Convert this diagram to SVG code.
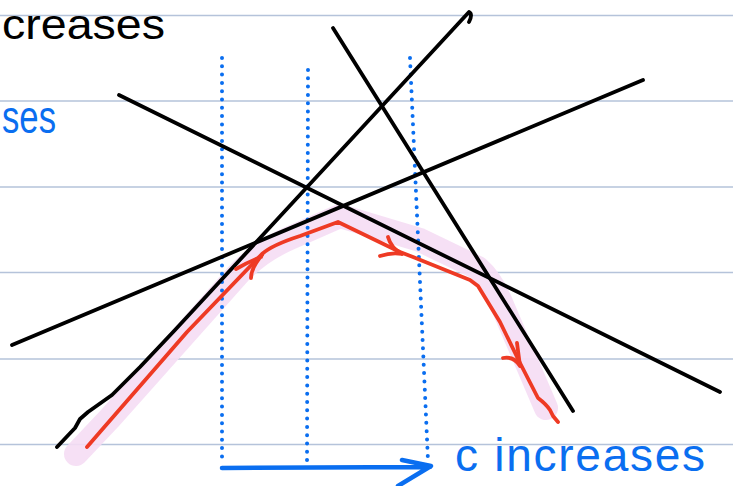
<svg xmlns="http://www.w3.org/2000/svg" width="733" height="486" viewBox="0 0 733 486">
<style>
.rule{stroke:#b5c3da;stroke-width:1.6}
.blk{fill:none;stroke:#000;stroke-width:3.8;stroke-linecap:round;stroke-linejoin:round}
.red{fill:none;stroke:#ee3a24;stroke-width:3.8;stroke-linecap:round;stroke-linejoin:round}
.dot{fill:none;stroke:#0a6ef0;stroke-width:4;stroke-linecap:round;stroke-dasharray:0 8.3}
.blue{fill:none;stroke:#0a6ef0;stroke-width:4.5;stroke-linecap:round;stroke-linejoin:round}
.hl{fill:none;stroke:#f5ddf4;stroke-width:24;stroke-linecap:round;stroke-linejoin:round;opacity:0.9}
.hand{font-family:"Liberation Sans","DejaVu Sans",sans-serif}
</style>
<rect width="733" height="486" fill="#fff"/>
<g id="rules">
<line class="rule" x1="0" y1="15.5" x2="733" y2="15.5"/>
<line class="rule" x1="0" y1="101" x2="733" y2="101"/>
<line class="rule" x1="0" y1="187" x2="733" y2="187"/>
<line class="rule" x1="0" y1="272.5" x2="733" y2="272.5"/>
<line class="rule" x1="0" y1="359" x2="733" y2="359"/>
<line class="rule" x1="0" y1="444.5" x2="733" y2="444.5"/>
</g>
<g id="highlight">
<path class="hl" d="M76,454 L110,418 L240,272 Q262,250 290,238 L340,216 L420,240 L478,268 Q492,280 502,305 L546,408"/>
</g>
<g id="text-top">
<text class="hand" x="2" y="39" font-size="42" fill="#000" textLength="163" lengthAdjust="spacingAndGlyphs">creases</text>
<text class="hand" x="2" y="133" font-size="46" fill="#0a6ef0" textLength="54" lengthAdjust="spacingAndGlyphs">ses</text>
</g>
<g id="dotted">
<line class="dot" x1="222" y1="58" x2="222" y2="460"/>
<line class="dot" x1="308" y1="70" x2="307" y2="463"/>
<line class="dot" x1="410" y1="58" x2="428" y2="461"/>
</g>
<g id="connectors">
<line class="blk" x1="119" y1="95" x2="720" y2="392"/>
<line class="blk" x1="12" y1="345" x2="643" y2="80"/>
<line class="blk" x1="333" y1="28" x2="573" y2="411"/>
<path class="blk" d="M57,447 L75,428 L80,419 L88,412 L112,395 L140,367 L175,330 L469,12 Q473,14 469,22"/>
<path class="red" d="M87,447 L100,432 L187,332 L262,254 Q272,245 300,236 L338,222 L400,252 L413,257 L470,280 L478,286 L500,322 L520,363 L538,398 Q546,404 550,410 L553,416 L558,422"/>
<path class="red" d="M236,269 Q248,262 261,257 M251,278 Q251,268 262,255"/>
<path class="red" d="M388,237 Q391,248 402,254 M380,256 Q392,252 402,254"/>
<path class="red" d="M503,358 Q514,356 520,366 M517,343 L520,366"/>
<path class="blue" d="M222,468 L430,467 M402,460 L431,466 L398,486"/>
</g>
<g id="label-c">
<text class="hand" x="455" y="471" font-size="46" fill="#0a6ef0" textLength="250" lengthAdjust="spacing">c increases</text>
</g>
</svg>
